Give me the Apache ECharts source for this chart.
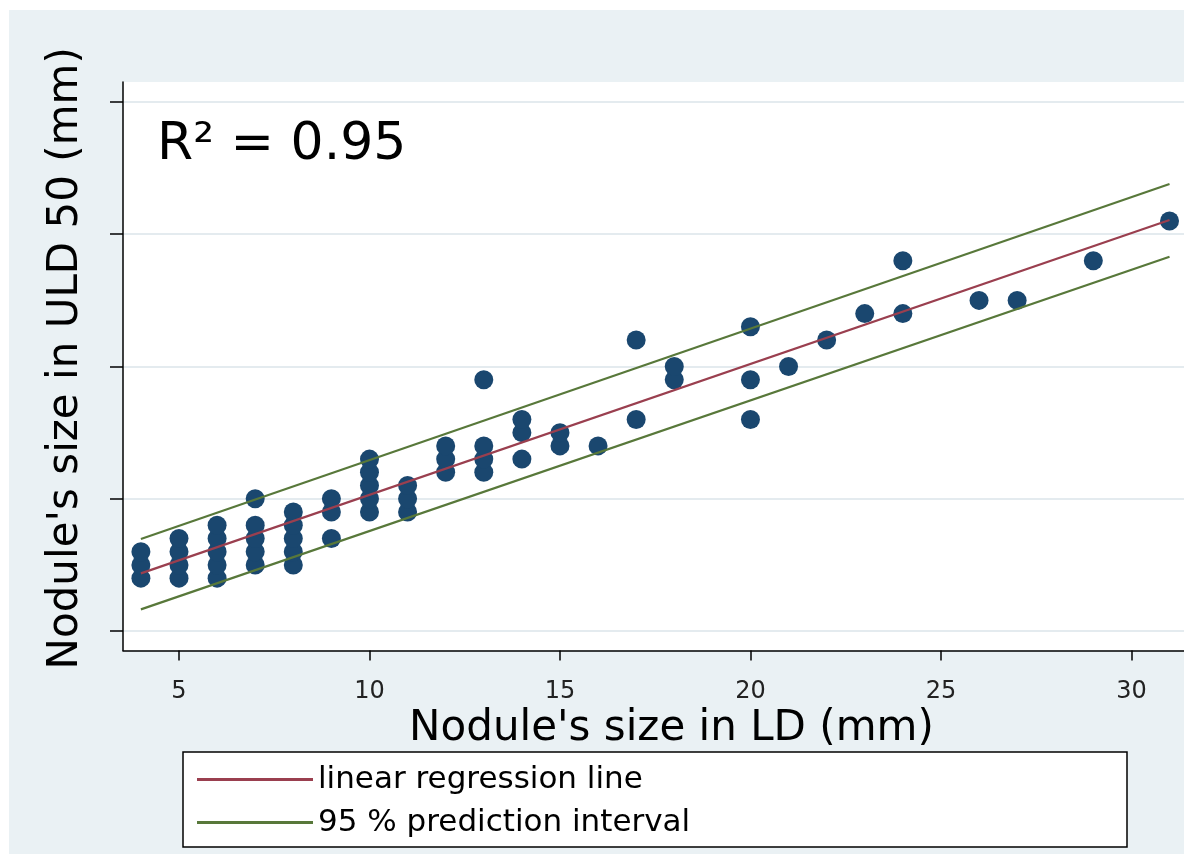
<!DOCTYPE html>
<html>
<head>
<meta charset="utf-8">
<script src="https://cdn.jsdelivr.net/npm/echarts@6/dist/echarts.min.js"></script>
<style>
  html, body { margin: 0; padding: 0; background: #ffffff; }
  #chart { width: 1184px; height: 854px; }
</style>
</head>
<body>
<div id="chart"></div>
<script>
// Nodule size measured in LD (x) vs ULD 50 (y), mm
const ldSize  = [4,4,4, 5,5,5,5, 6,6,6,6,6, 7,7,7,7,7, 8,8,8,8,8, 9,9,9, 10,10,10,10,10, 11,11,11, 12,12,12, 13,13,13,13, 14,14,14, 15,15, 16, 17,17, 18,18, 20,20,20, 21, 22, 23, 24,24, 26, 27, 29, 31];
const uldSize = [4,5,6, 4,5,6,7, 4,5,6,7,8, 5,6,7,8,10, 5,6,7,8,9, 7,9,10, 9,10,11,12,13, 9,10,11, 12,13,14, 12,13,14,19, 13,15,16, 14,15, 14, 16,22, 19,20, 16,19,23, 20, 22, 24, 24,28, 25, 25, 28, 31];

// Fitted line and 95 % prediction interval, read at the ends of the fit range
const fitX   = [4, 31];
const fitY   = [4.36, 31.08];
const upperY = [6.96, 33.8];
const lowerY = [1.64, 28.3];

const xTicks = [5, 10, 15, 20, 25, 30];
const yTicks = [0, 10, 20, 30, 40];

const FONT = "'DejaVu Sans', 'Noto Sans', sans-serif";

const pairs = (xs, ys) => xs.map((x, i) => [x, ys[i]]);

const chart = echarts.init(document.getElementById('chart'), null, { renderer: 'canvas' });

chart.setOption({
  animation: false,
  backgroundColor: '#ffffff',
  graphic: [
    { type: 'rect', z: -10, shape: { x: 9, y: 10, width: 1175, height: 844 }, style: { fill: '#eaf1f4' }, silent: true },
    { type: 'rect', z: 1, shape: { x: 183, y: 752, width: 944, height: 95 }, style: { fill: '#ffffff', stroke: '#000000', lineWidth: 1.5 }, silent: true },
    { type: 'text', z: 10, left: 157, top: 119, style: { text: 'R² = 0.95', font: "52px 'DejaVu Sans', sans-serif", fill: '#000000' } }
  ],
  grid: {
    left: 123, top: 82, right: 0, bottom: 203.5,
    show: true, backgroundColor: '#ffffff', borderWidth: 0
  },
  xAxis: {
    type: 'value',
    min: 3.53, max: 31.38,
    name: "Nodule's size in LD (mm)",
    nameLocation: 'middle',
    nameGap: 58,
    nameTextStyle: { fontFamily: FONT, fontSize: 42, color: '#000', padding: [0, 0, 0, 36] },
    axisLine: { show: true, onZero: false, lineStyle: { color: '#000', width: 1.5 } },
    axisTick: { show: true, length: 10, customValues: xTicks, lineStyle: { color: '#000', width: 1.5 } },
    axisLabel: { customValues: xTicks, margin: 29, fontFamily: FONT, fontSize: 24, color: '#222' },
    splitLine: { show: false }
  },
  yAxis: {
    type: 'value',
    min: -1.47, max: 41.51,
    name: "Nodule's size in ULD 50 (mm)",
    nameLocation: 'middle',
    nameGap: 36,
    nameTextStyle: { fontFamily: FONT, fontSize: 42, color: '#000', padding: [0, 0, 0, 16] },
    axisLine: { show: true, onZero: false, lineStyle: { color: '#000', width: 1.5 } },
    axisTick: { show: true, length: 13, customValues: yTicks, lineStyle: { color: '#000', width: 1.5 } },
    axisLabel: { show: false, customValues: yTicks },
    splitLine: { show: true, lineStyle: { color: '#e4ebef', width: 2 } }
  },
  legend: {
    orient: 'vertical',
    left: 197, top: 764,
    padding: 0,
    itemGap: 12,
    itemWidth: 116, itemHeight: 3,
    icon: 'rect',
    z: 20,
    textStyle: { fontFamily: FONT, fontSize: 31, color: '#000' },
    data: ['linear regression line', '95 % prediction interval']
  },
  series: [
    {
      name: 'observations',
      type: 'scatter',
      data: pairs(ldSize, uldSize),
      symbolSize: 19,
      itemStyle: { color: '#1a476f', opacity: 1 },
      z: 2
    },
    {
      name: 'linear regression line',
      type: 'line',
      data: pairs(fitX, fitY),
      showSymbol: false,
      lineStyle: { color: '#9a3f4f', width: 2.2 },
      itemStyle: { color: '#9a3f4f' },
      z: 3
    },
    {
      name: '95 % prediction interval',
      type: 'line',
      data: pairs(fitX, upperY),
      showSymbol: false,
      lineStyle: { color: '#58783a', width: 2.2 },
      itemStyle: { color: '#58783a' },
      z: 3
    },
    {
      name: '95 % prediction interval',
      type: 'line',
      data: pairs(fitX, lowerY),
      showSymbol: false,
      lineStyle: { color: '#58783a', width: 2.2 },
      itemStyle: { color: '#58783a' },
      z: 3
    }
  ]
});
</script>
</body>
</html>
